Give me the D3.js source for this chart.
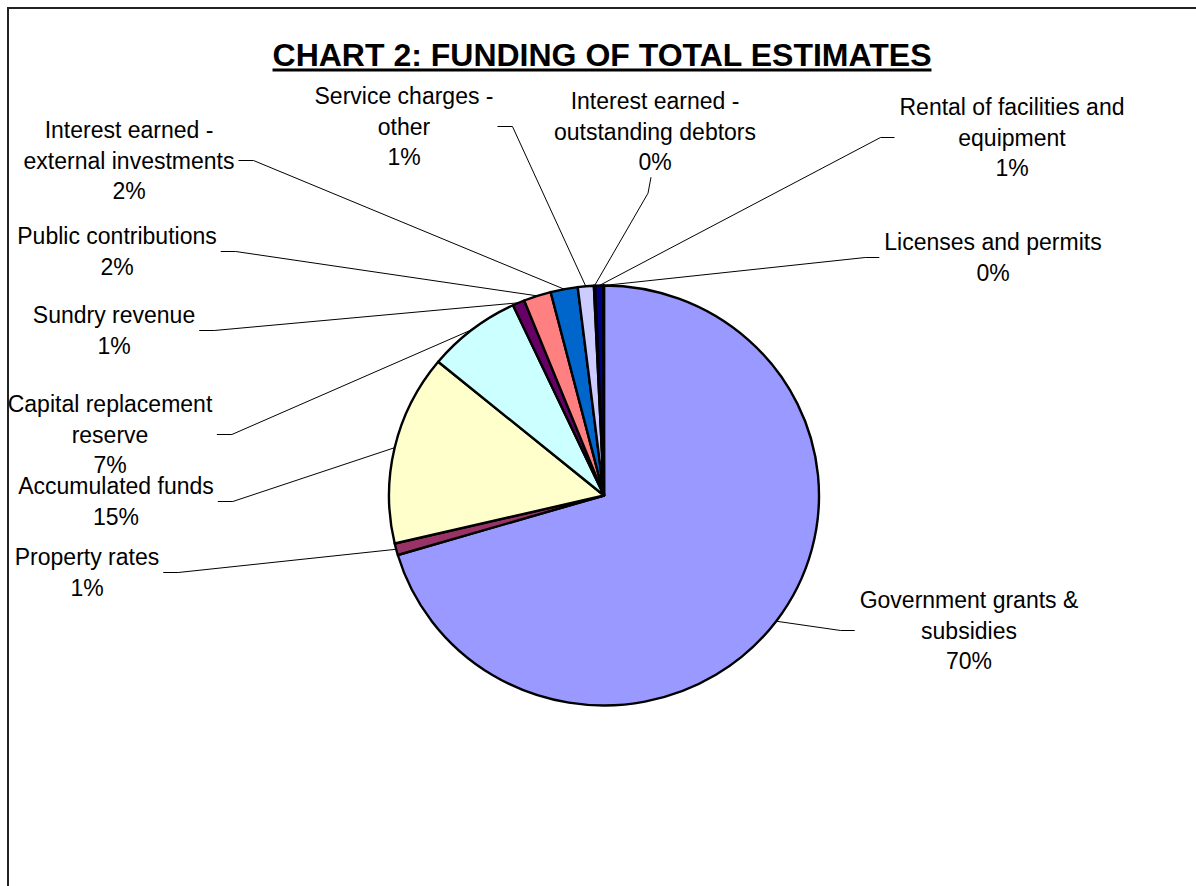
<!DOCTYPE html>
<html>
<head>
<meta charset="utf-8">
<script src="https://cdn.jsdelivr.net/npm/d3@7"></script>
<style>
  html, body { margin: 0; padding: 0; background: #ffffff; }
  svg { display: block; }
  text { font-family: "Liberation Sans", Arial, sans-serif; fill: #000; }
</style>
</head>
<body>
<svg id="chart" width="1196" height="886"></svg>
<script>
// Funding sources, clockwise from 12 o'clock
const categories = [
  ["Government grants &", "subsidies"],
  ["Property rates"],
  ["Accumulated funds"],
  ["Capital replacement", "reserve"],
  ["Sundry revenue"],
  ["Public contributions"],
  ["Interest earned -", "external investments"],
  ["Service charges -", "other"],
  ["Interest earned -", "outstanding debtors"],
  ["Rental of facilities and", "equipment"],
  ["Licenses and permits"]
];

// Share of total estimates (%)
const values = [70.4, 0.9, 14.65, 7.06, 0.9, 2.06, 2.04, 1.2, 0.1, 0.6, 0.05];

const palette = ["#9999FF", "#993366", "#FFFFCC", "#CCFFFF", "#660066", "#FF8080",
                 "#0066CC", "#CCCCFF", "#FF00FF", "#000080", "#FFFF00"];

// Label block centres (relative to the pie centre) and the side the leader leaves from
const labelPlacement = [
  { dx: 365, dy: 135, side: "left" },
  { dx: -517, dy: 77, side: "right" },
  { dx: -488, dy: 6, side: "right" },
  { dx: -494, dy: -61, side: "right" },
  { dx: -490, dy: -165, side: "right" },
  { dx: -487, dy: -244, side: "right" },
  { dx: -475, dy: -335, side: "right" },
  { dx: -200, dy: -369, side: "right" },
  { dx: 51, dy: -364, side: "bottom" },
  { dx: 408, dy: -358, side: "left" },
  { dx: 389, dy: -238, side: "left" }
];

const title = "CHART 2: FUNDING OF TOTAL ESTIMATES";

const svg = d3.select("#chart");
const cx = 604, cy = 495.5, radius = 212;
const sx = 215 / 212, sy = 210 / 212;   // the plot area is drawn slightly wider than tall
const fontSize = 23, lineGap = 30.7;

// Frame
svg.append("path")
  .attr("d", `M8,886 L8,8 L1196,8`)
  .attr("fill", "none")
  .attr("stroke", "#222")
  .attr("stroke-width", 2);

// Title with underline
const titleText = svg.append("text")
  .attr("x", 602)
  .attr("y", 66)
  .attr("text-anchor", "middle")
  .style("font-size", "32px")
  .style("font-weight", "bold")
  .text(title);
const tb = titleText.node().getBBox();
svg.append("line")
  .attr("x1", tb.x).attr("x2", tb.x + tb.width)
  .attr("y1", 70).attr("y2", 70)
  .attr("stroke", "#000").attr("stroke-width", 3);

const total = d3.sum(values);
const pct = d3.format(".0%");

const pie = d3.pie().sort(null).value(d => d)(values);
const arc = d3.arc().innerRadius(0).outerRadius(radius);
const rimArc = d3.arc().innerRadius(radius).outerRadius(radius);

const g = svg.append("g").attr("transform", `translate(${cx},${cy})`);

g.append("g")
  .attr("transform", `scale(${sx},${sy})`)
  .selectAll("path.slice")
  .data(pie)
  .join("path")
  .attr("class", "slice")
  .attr("d", arc)
  .attr("fill", (d, i) => palette[i])
  .attr("stroke", "#000")
  .attr("stroke-width", 2.4)
  .attr("vector-effect", "non-scaling-stroke")
  .attr("stroke-linejoin", "round");

// Labels and leader lines
pie.forEach((d, i) => {
  const place = labelPlacement[i];
  const lines = categories[i].concat([pct(d.value / total)]);
  const n = lines.length;
  const lx = place.dx, ly = place.dy;
  const lab = g.append("text")
    .attr("text-anchor", "middle")
    .style("font-size", fontSize + "px");
  lines.forEach((t, k) => {
    lab.append("tspan")
      .attr("x", lx)
      .attr("y", ly + (k - (n - 1) / 2) * lineGap + 8)
      .text(t);
  });
  const bb = lab.node().getBBox();
  let start, elbow;
  if (place.side === "right") {
    start = [bb.x + bb.width + 4, ly];
    elbow = [start[0] + 15, ly];
  } else if (place.side === "left") {
    start = [bb.x - 5, ly];
    elbow = [start[0] - 14, ly];
  } else {
    start = [lx - 4, bb.y + bb.height + 2];
    elbow = [lx - 7, start[1] + 16];
  }
  const c = rimArc.centroid(d);
  const rim = [c[0] * sx, c[1] * sy];
  g.append("path")
    .attr("d", d3.line()([start, elbow, rim]))
    .attr("fill", "none")
    .attr("stroke", "#000")
    .attr("stroke-width", 1);
});
</script>
</body>
</html>
